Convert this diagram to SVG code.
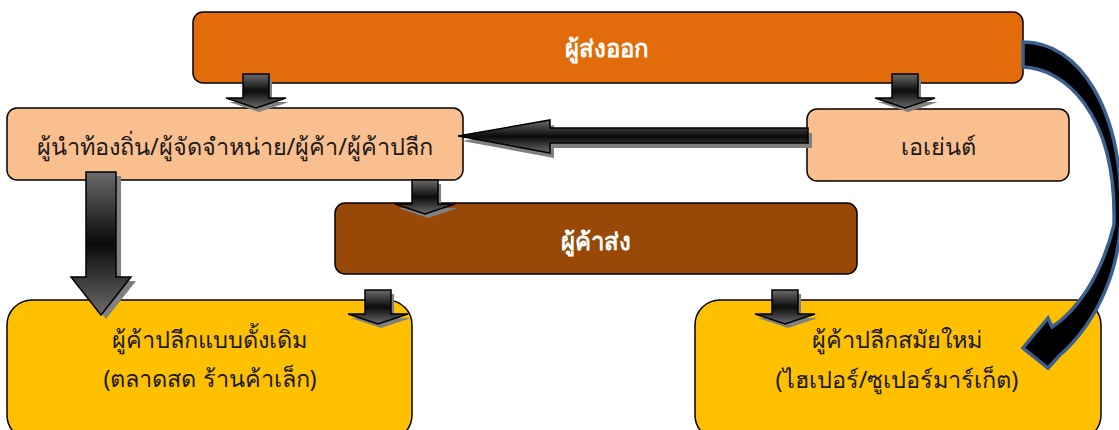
<svg xmlns="http://www.w3.org/2000/svg" width="1119" height="430" viewBox="0 0 1119 430">
  <defs>
    <linearGradient id="arrowFill" x1="0" y1="0" x2="0" y2="1">
      <stop offset="0" stop-color="#6b6b6b"/>
      <stop offset="0.5" stop-color="#0a0a0a"/>
      <stop offset="1" stop-color="#6b6b6b"/>
    </linearGradient>
    <!-- small block arrow pointing down, origin at top centre of the shaft -->
    <path id="downArrow" d="M -13 0 H 13 V 24 H 30 L 0 34 L -30 24 H -13 Z"/>
  </defs>
  <style>
    .box { stroke: #000; stroke-width: 1.5; }
    .exporter { fill: #E36C0A; }
    .light { fill: #FABF8F; }
    .wholesale { fill: #984807; }
    .retail { fill: #FFC000; }
    .label { font-family: "Tahoma", "Noto Sans", "DejaVu Sans", sans-serif; font-size: 23.5px; fill: #1a1a1a; text-anchor: middle; }
    .white { fill: #ffffff; font-weight: bold; font-size: 24px; }
    .shadow { fill: #808080; }
    .arrow { fill: url(#arrowFill); stroke: #000; stroke-width: 1.5; }
  </style>

  <rect width="1119" height="430" fill="#ffffff"/>

  <!-- nodes -->
  <g id="exporter">
    <rect class="box exporter" x="193" y="12" width="830" height="71" rx="10"/>
    <text class="label white" x="607" y="57">ผู้ส่งออก</text>
  </g>

  <g id="local-dealers">
    <rect class="box light" x="7" y="108" width="456" height="72" rx="10"/>
    <text class="label" x="235" y="155">ผู้นำท้องถิ่น/ผู้จัดจำหน่าย/ผู้ค้า/ผู้ค้าปลีก</text>
  </g>

  <g id="agent">
    <rect class="box light" x="807" y="109" width="262" height="72" rx="10"/>
    <text class="label" x="938" y="155">เอเย่นต์</text>
  </g>

  <g id="wholesaler">
    <rect class="box wholesale" x="335" y="203" width="522" height="71" rx="10"/>
    <text class="label white" x="596" y="250">ผู้ค้าส่ง</text>
  </g>

  <g id="traditional-retail">
    <rect class="box retail" x="7" y="300" width="405" height="140" rx="25"/>
    <text class="label" x="209" y="348">ผู้ค้าปลีกแบบดั้งเดิม</text>
    <text class="label" x="210" y="387">(ตลาดสด ร้านค้าเล็ก)</text>
  </g>

  <g id="modern-retail">
    <rect class="box retail" x="695" y="300" width="406" height="140" rx="25"/>
    <text class="label" x="897" y="348">ผู้ค้าปลีกสมัยใหม่</text>
    <text class="label" x="897" y="388">(ไฮเปอร์/ซูเปอร์มาร์เก็ต)</text>
  </g>

  <!-- connectors -->
  <g id="connectors">
    <!-- exporter -> local dealers -->
    <use href="#downArrow" class="shadow" transform="translate(259,78)"/>
    <use href="#downArrow" class="arrow" transform="translate(256,74)"/>
    <!-- exporter -> agent -->
    <use href="#downArrow" class="shadow" transform="translate(908,78)"/>
    <use href="#downArrow" class="arrow" transform="translate(905,74)"/>
    <!-- local dealers -> wholesaler -->
    <use href="#downArrow" class="shadow" transform="translate(428,184)"/>
    <use href="#downArrow" class="arrow" transform="translate(425,180)"/>
    <!-- wholesaler -> traditional retail -->
    <use href="#downArrow" class="shadow" transform="translate(381,294)"/>
    <use href="#downArrow" class="arrow" transform="translate(378,290)"/>
    <!-- wholesaler -> modern retail -->
    <use href="#downArrow" class="shadow" transform="translate(788,294)"/>
    <use href="#downArrow" class="arrow" transform="translate(785,290)"/>

    <!-- local dealers -> traditional retail (large) -->
    <path class="shadow" d="M 91 176 H 121 V 281 H 136 L 106 319 L 76 281 H 91 Z"/>
    <path class="arrow" d="M 86 172 H 116 V 277 H 131 L 101 315 L 71 277 H 86 Z"/>

    <!-- agent -> local dealers -->
    <path class="shadow" d="M 812 133 H 554 V 125 L 462 141 L 554 158 V 148 H 812 Z"/>
    <path class="arrow" d="M 808 128 H 550 V 120 L 458 136 L 550 153 V 143 H 808 Z"/>

    <!-- exporter -> modern retail (curved) -->
    <path d="M 1023 42 C 1080 42 1122 110 1121 212 C 1121 265 1100 320 1059 356 L 1048 368 L 1023 348 L 1048 318 L 1052 327 C 1075 312 1100 280 1114 225 C 1117 110 1062 68 1023 67 Z" fill="#000" stroke="#3B6090" stroke-width="3.5" stroke-linejoin="miter"/>
  </g>
</svg>
